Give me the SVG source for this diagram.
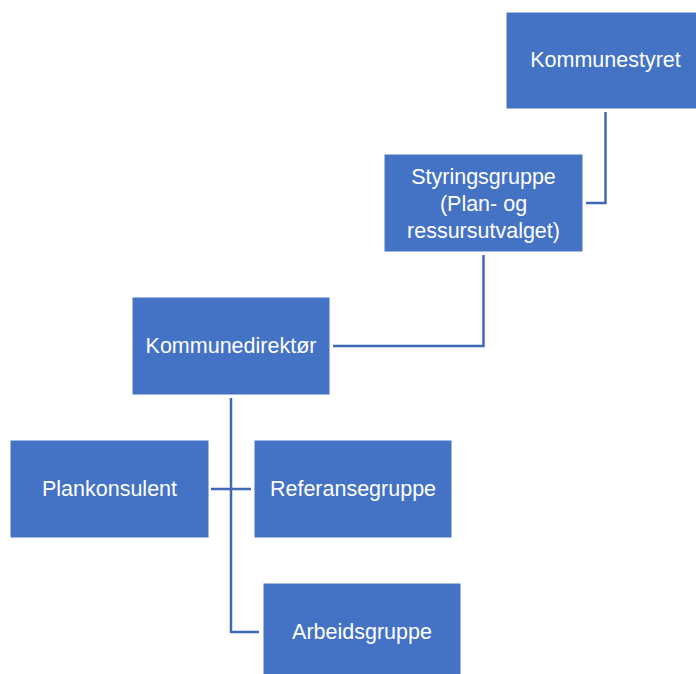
<svg xmlns="http://www.w3.org/2000/svg" width="696" height="674" viewBox="0 0 696 674">
<style>
.box{fill:#4472C4;stroke:#ffffff;stroke-width:1}
.lbl{font-family:"Liberation Sans",Arial,sans-serif;font-size:21.5px;fill:#ffffff;text-anchor:middle}
.con{fill:none;stroke:#3F68B5;stroke-width:2.5}
</style>
<rect width="696" height="674" fill="#ffffff"/>
<g id="connectors">
<polyline class="con" points="605.5,112 605.5,203 586,203"/>
<polyline class="con" points="483.5,255 483.5,346 333,346"/>
<polyline class="con" points="231,398 231,632 259,632"/>
<line class="con" x1="211" y1="489" x2="251" y2="489"/>
</g>
<g id="kommunestyret">
<rect class="box" x="506" y="12" width="199" height="97"/>
<text class="lbl" x="605.5" y="67">Kommunestyret</text>
</g>
<g id="styringsgruppe">
<rect class="box" x="384" y="154" width="199" height="98"/>
<text class="lbl" x="483.5" y="184">Styringsgruppe</text>
<text class="lbl" x="483.5" y="211">(Plan- og</text>
<text class="lbl" x="483.5" y="238">ressursutvalget)</text>
</g>
<g id="kommunedirektor">
<rect class="box" x="132" y="297" width="198" height="98"/>
<text class="lbl" x="231" y="353">Kommunedirektør</text>
</g>
<g id="plankonsulent">
<rect class="box" x="10" y="440" width="199" height="98"/>
<text class="lbl" x="109.5" y="496">Plankonsulent</text>
</g>
<g id="referansegruppe">
<rect class="box" x="254" y="440" width="198" height="98"/>
<text class="lbl" x="353" y="496">Referansegruppe</text>
</g>
<g id="arbeidsgruppe">
<rect class="box" x="263" y="583" width="198" height="98"/>
<text class="lbl" x="362" y="639">Arbeidsgruppe</text>
</g>
</svg>
